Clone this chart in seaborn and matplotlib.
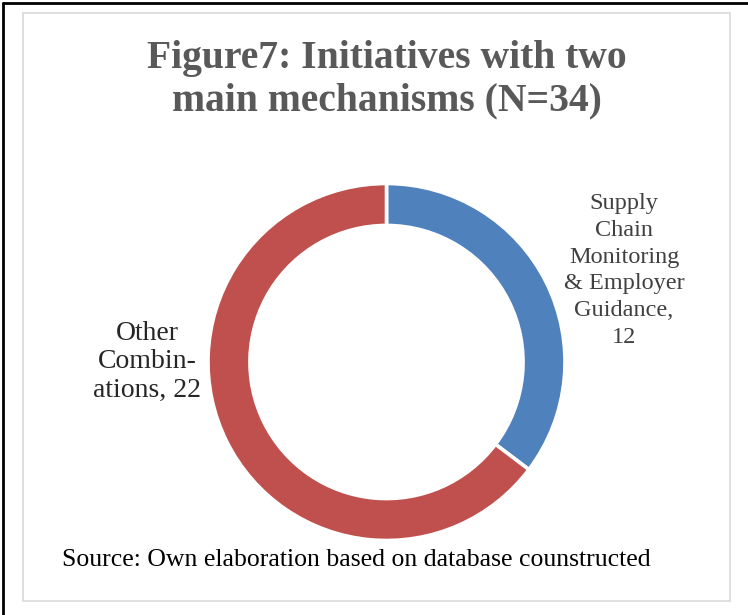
import matplotlib
matplotlib.use("Agg")
import matplotlib.pyplot as plt
from matplotlib.patches import Rectangle
from matplotlib.lines import Line2D
import seaborn as sns

categories = ["Supply\nChain\nMonitoring\n& Employer\nGuidance,", "Other\nCombin-\nations,"]
values = [12, 22]
colors = ["#4F81BD", "#C0504D"]
title = "Figure7: Initiatives with two\nmain mechanisms (N=34)"
source = "Source: Own elaboration based on database counstructed"

sns.set_theme(style="white")
plt.rcParams["font.family"] = ["Liberation Serif", "DejaVu Serif"]

W, H = 748, 615
fig = plt.figure(figsize=(W / 100, H / 100), dpi=100)
fig.patch.set_facecolor("white")

# frame lines
fig.add_artist(Rectangle((23 / W, 1 - 601 / H), (730 - 23) / W, (601 - 13) / H,
                         transform=fig.transFigure, fill=False, edgecolor="#D9D9D9", linewidth=1.2))
fig.add_artist(Line2D([2.5 / W, 2.5 / W], [0, 1 - 2.5 / H], transform=fig.transFigure, color="black", linewidth=2))
fig.add_artist(Line2D([2.5 / W, 1], [1 - 2.5 / H, 1 - 2.5 / H], transform=fig.transFigure, color="black", linewidth=2))

# donut
cx, cy, r = 386.5, 362, 178.5
ax = fig.add_axes([(cx - r) / W, 1 - (cy + r) / H, 2 * r / W, 2 * r / H])
ax.pie(values, colors=colors, startangle=90, counterclock=False, radius=1,
       wedgeprops=dict(width=0.235, edgecolor="white", linewidth=2.6))
ax.set_xlim(-1, 1)
ax.set_ylim(-1, 1)
ax.set_aspect("equal")
ax.axis("off")

# slice labels
fig.text(624 / W, 1 - 270.5 / H, f"{categories[0]}\n{values[0]}", ha="center", va="center",
         fontsize=17.5, color="#404040", linespacing=1.37)
fig.text(147 / W, 1 - 362 / H, f"{categories[1]} {values[1]}", ha="center", va="center",
         fontsize=20, color="#262626", linespacing=1.2)

fig.text(387 / W, 1 - 80 / H, title, ha="center", va="center", fontsize=28.5, fontweight="bold",
         color="#595959", linespacing=1.2)
fig.text(62 / W, 1 - 560 / H, source, ha="left", va="center", fontsize=18.5, color="black")

fig.savefig("out.png", dpi=100, facecolor="white")
